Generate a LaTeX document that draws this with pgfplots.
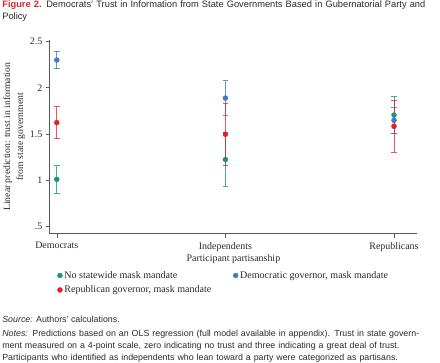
\documentclass[border=0pt]{standalone}
\usepackage{pgfplots}
\pgfplotsset{compat=1.18}
\usepackage{fontspec}
\setmainfont{Liberation Serif}
\newfontfamily\sansf{Liberation Sans}
\definecolor{cgreen}{HTML}{17977D}
\definecolor{cblue}{HTML}{4479C6}
\definecolor{cred}{HTML}{E5202C}
\definecolor{titlered}{HTML}{D9252E}
\definecolor{txt}{HTML}{2A2A2A}
\begin{document}
\begin{tikzpicture}
\path (0pt,0pt) rectangle (440pt,-364pt);
\node[anchor=north west, inner sep=0pt, text width=440pt, align=left, text=txt,
  font=\sansf\fontsize{9.35}{12.5}\selectfont] at (0pt,-0.5pt)
  {\textcolor{titlered}{\textbf{Figure 2.}} Democrats’ Trust in Information from State Governments Based in Gubernatorial Party and\\Policy};
\begin{axis}[
  at={(48pt,-235pt)}, anchor=south west,
  scale only axis, width=369pt, height=195pt,
  xmin=-0.041, xmax=2.136, ymin=0.417, ymax=2.52,
  axis lines=left, axis line style={-, draw=black!65, line width=0.8pt},
  tick align=outside, major tick length=4pt,
  tick style={draw=black!65, line width=0.6pt},
  xtick={0,1,2}, xticklabels={Democrats,Independents,Republicans},
  ytick={0.5,1,1.5,2,2.5}, yticklabels={.5,1,1.5,2,2.5},
  /pgf/number format/assume math mode=true,
  tick label style={font=\fontsize{10}{12}\selectfont, text=txt},
  xticklabel style={yshift=-1pt},
  xlabel={Participant partisanship},
  xlabel style={font=\fontsize{10}{12}\selectfont, text=txt, yshift=4pt},
  ylabel={Linear prediction: trust in information\\from state government},
  ylabel style={font=\fontsize{9.7}{13}\selectfont, text=txt, align=center, yshift=-2pt},
  legend columns=2,
  legend style={draw=none, fill=none, at={(rel axis cs:0.012,-0.172)}, anchor=north west,
    font=\fontsize{10.1}{12}\selectfont, text=txt, row sep=2pt,
    /tikz/every even column/.append style={column sep=20pt}},
  legend cell align=left,
  clip=false,
]
% error bars
\addplot[cgreen, only marks, mark=none, forget plot,
  error bars/.cd, y dir=both, y explicit,
  error bar style={cgreen, draw opacity=0.8, line width=0.8pt},
  error mark options={cgreen, draw opacity=0.8, line width=0.8pt, mark size=2.8pt, rotate=90}]
  coordinates {(0,1.007) +- (0,0.147) (1,1.222) +- (0,0.291) (2,1.704) +- (0,0.199)};
\addplot[cblue, only marks, mark=none, forget plot,
  error bars/.cd, y dir=both, y explicit,
  error bar style={cblue, draw opacity=0.8, line width=0.8pt},
  error mark options={cblue, draw opacity=0.8, line width=0.8pt, mark size=2.8pt, rotate=90}]
  coordinates {(0,2.300) +- (0,0.094) (1,1.888) +- (0,0.187) (2,1.647) +- (0,0.141)};
\addplot[cred, only marks, mark=none, forget plot,
  error bars/.cd, y dir=both, y explicit,
  error bar style={cred, draw opacity=0.75, line width=0.8pt},
  error mark options={cred, draw opacity=0.75, line width=0.8pt, mark size=2.8pt, rotate=90}]
  coordinates {(0,1.622) +- (0,0.173) (1,1.496) +- (0,0.333) (2,1.582) +- (0,0.281)};
% markers
\addplot[only marks, mark=*, mark size=2.5pt, mark options={draw=cgreen, fill=cgreen}]
  coordinates {(0,1.007) (1,1.222) (2,1.704)};
\addlegendentry{No statewide mask mandate}
\addplot[only marks, mark=*, mark size=2.5pt, mark options={draw=cblue, fill=cblue}]
  coordinates {(0,2.300) (1,1.888) (2,1.647)};
\addlegendentry{Democratic governor, mask mandate}
\addplot[only marks, mark=*, mark size=2.5pt, mark options={draw=cred, fill=cred}]
  coordinates {(0,1.622) (1,1.496) (2,1.582)};
\addlegendentry{Republican governor, mask mandate}
\end{axis}
\node[anchor=north west, inner sep=0pt, text=txt, font=\sansf\fontsize{8.9}{12}\selectfont] at (0pt,-318pt)
  {\textit{Source:} Authors’ calculations.};
\node[anchor=north west, inner sep=0pt, text width=440pt, align=left, text=txt,
  font=\sansf\fontsize{8.9}{11.8}\selectfont] at (0pt,-332pt)
  {\textit{Notes:} Predictions based on an OLS regression (full model available in appendix). Trust in state govern-\\
  ment measured on a 4-point scale, zero indicating no trust and three indicating a great deal of trust.\\
  Participants who identified as independents who lean toward a party were categorized as partisans.};
\end{tikzpicture}
\end{document}
